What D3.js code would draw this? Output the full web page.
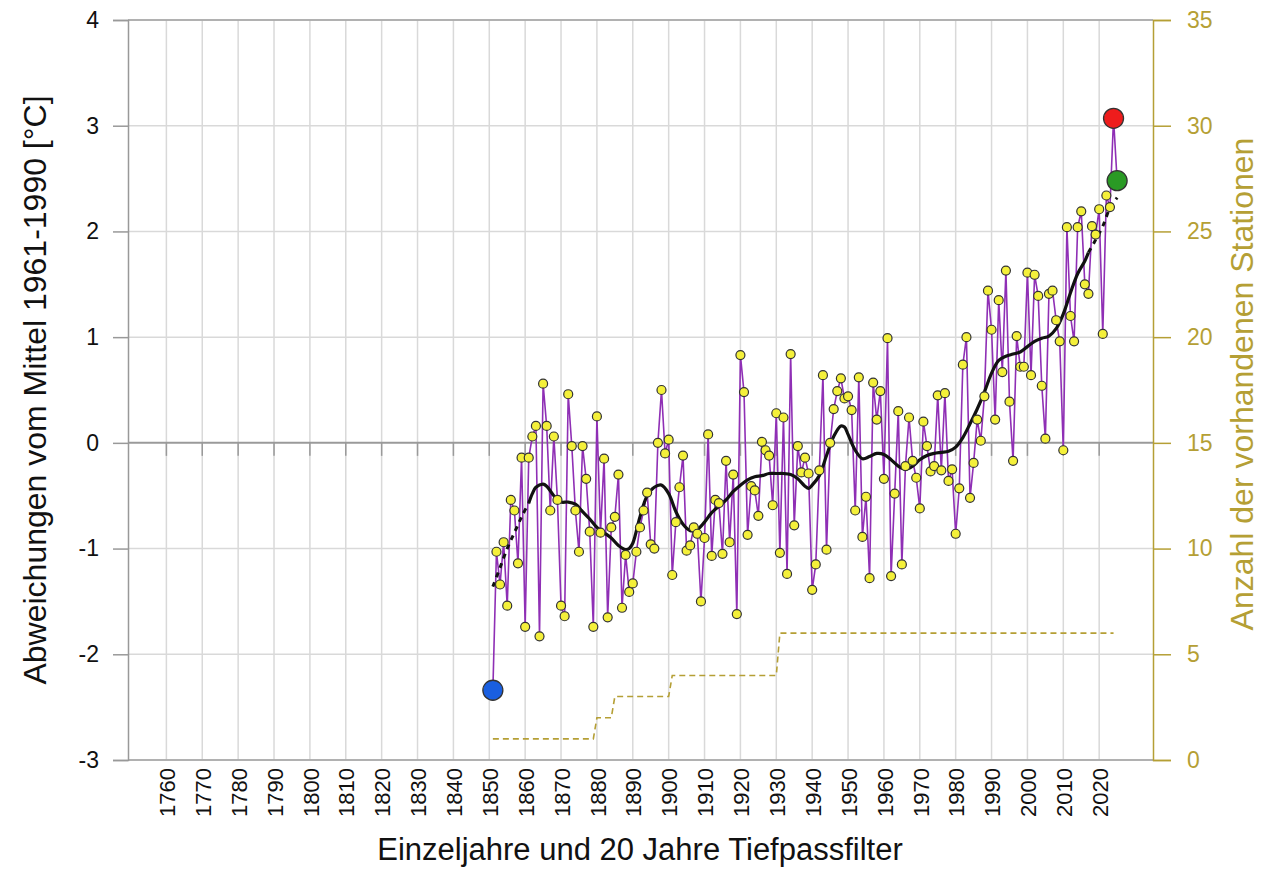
<!DOCTYPE html>
<html>
<head>
<meta charset="utf-8">
<script src="https://cdn.jsdelivr.net/npm/d3@7/dist/d3.min.js"></script>
<style>
  body { margin: 0; background: #fff; }
  text { font-family: "Liberation Sans", Arial, sans-serif; }
</style>
</head>
<body>
<svg id="chart" width="1272" height="870"></svg>
<script>
// yearly anomalies 1851..2025 (last two: red = warmest, green = latest)
const firstYear = 1851;
const anomalies = [
  -2.34, -1.03, -1.34, -0.94, -1.54, -0.54, -0.64, -1.14, -0.14,          // 1851-1859
  -1.74, -0.14, 0.06, 0.16, -1.83, 0.56, 0.16, -0.64, 0.06, -0.54,        // 1860-1869
  -1.54, -1.64, 0.46, -0.03, -0.64, -1.03, -0.03, -0.34, -0.84, -1.74,    // 1870-1879
  0.25, -0.85, -0.15, -1.65, -0.80, -0.70, -0.30, -1.56, -1.06, -1.41,    // 1880-1889
  -1.33, -1.03, -0.80, -0.64, -0.47, -0.96, -1.00, 0.00, 0.50, -0.10,     // 1890-1899
  0.03, -1.25, -0.75, -0.42, -0.12, -1.02, -0.97, -0.80, -0.86, -1.50,    // 1900-1909
  -0.90, 0.08, -1.07, -0.54, -0.57, -1.05, -0.17, -0.94, -0.30, -1.62,    // 1910-1919
  0.83, 0.48, -0.87, -0.41, -0.45, -0.69, 0.01, -0.07, -0.12, -0.59,      // 1920-1929
  0.28, -1.04, 0.24, -1.24, 0.84, -0.78, -0.03, -0.28, -0.14, -0.29,      // 1930-1939
  -1.39, -1.15, -0.26, 0.64, -1.01, 0.00, 0.32, 0.49, 0.61, 0.42,         // 1940-1949
  0.44, 0.31, -0.64, 0.62, -0.89, -0.51, -1.28, 0.57, 0.22, 0.49,         // 1950-1959
  -0.34, 0.99, -1.26, -0.48, 0.30, -1.15, -0.22, 0.24, -0.17, -0.33,      // 1960-1969
  -0.62, 0.20, -0.03, -0.27, -0.22, 0.45, -0.26, 0.47, -0.36, -0.25,      // 1970-1979
  -0.86, -0.43, 0.74, 1.00, -0.52, -0.19, 0.22, 0.02, 0.44, 1.44,         // 1980-1989
  1.07, 0.22, 1.35, 0.67, 1.63, 0.39, -0.17, 1.01, 0.72, 0.72,            // 1990-1999
  1.61, 0.64, 1.59, 1.39, 0.54, 0.04, 1.41, 1.44, 1.16, 0.96,             // 2000-2009
  -0.07, 2.04, 1.20, 0.96, 2.04, 2.19, 1.50, 1.41, 2.05, 1.97,            // 2010-2019
  2.21, 1.03, 2.34, 2.23, 3.07, 2.48                                      // 2020-2025
];
const years = anomalies.map((d, i) => firstYear + i);

// 20-year low-pass filter
const filterYears = [1851, 1853, 1855, 1857, 1859, 1861, 1862, 1863, 1865, 1866, 1868, 1870,
  1872, 1874, 1876, 1878, 1880, 1882, 1884, 1886, 1888, 1889, 1890, 1892, 1894, 1896, 1898,
  1900, 1902, 1904, 1906, 1908, 1910, 1912, 1914, 1916, 1918, 1920, 1922, 1924, 1926, 1928,
  1930, 1932, 1934, 1936, 1938, 1939, 1940, 1942, 1944, 1946, 1948, 1949, 1950, 1952, 1954,
  1956, 1958, 1960, 1962, 1964, 1966, 1968, 1970, 1972, 1974, 1976, 1978, 1980, 1982, 1984,
  1986, 1988, 1990, 1992, 1994, 1996, 1998, 2000, 2002, 2004, 2006, 2008, 2010, 2012, 2014,
  2016, 2017, 2019, 2021, 2023, 2025];
const filterValues = [-1.36, -1.18, -1.00, -0.85, -0.70, -0.57, -0.48, -0.42, -0.39, -0.41,
  -0.50, -0.56, -0.56, -0.58, -0.65, -0.72, -0.80, -0.85, -0.90, -0.97, -1.01, -1.00, -0.95,
  -0.70, -0.50, -0.42, -0.40, -0.48, -0.65, -0.77, -0.83, -0.82, -0.75, -0.66, -0.60, -0.54,
  -0.46, -0.40, -0.35, -0.32, -0.31, -0.29, -0.29, -0.29, -0.30, -0.34, -0.41, -0.43, -0.40,
  -0.31, -0.12, 0.06, 0.16, 0.15, 0.08, -0.07, -0.15, -0.13, -0.10, -0.11, -0.16, -0.22, -0.25,
  -0.22, -0.16, -0.12, -0.10, -0.09, -0.08, -0.04, 0.05, 0.18, 0.32, 0.48, 0.66, 0.78, 0.82,
  0.84, 0.86, 0.91, 0.96, 0.99, 1.01, 1.08, 1.22, 1.42, 1.60, 1.72, 1.80, 1.92, 2.05, 2.22, 2.32];
const filterSolidFrom = 1861, filterSolidTo = 2017;

// number of stations
const stationYears  = [1851, 1879, 1880, 1884, 1885, 1900, 1901, 1930, 1931, 2024];
const stationCounts = [1, 1, 2, 2, 3, 3, 4, 4, 6, 6];

const decadeTicks = d3.range(1760, 2021, 10);
const leftTicks = d3.range(-3, 5);
const rightTicks = d3.range(0, 36, 5);

const gold = '#b59f35';
const svg = d3.select('#chart');
svg.append('rect').attr('width', 1272).attr('height', 870).attr('fill', '#fff');

const x = d3.scaleLinear().domain([1749.3, 2035]).range([128, 1153]);
const y = d3.scaleLinear().domain([-3, 4]).range([760, 20]);
const y2 = d3.scaleLinear().domain([0, 35]).range([760, 20]);

// grid
svg.append('g').selectAll('line').data(decadeTicks).join('line')
  .attr('x1', d => x(d)).attr('x2', d => x(d)).attr('y1', y(4)).attr('y2', y(-3))
  .attr('stroke', '#d9d9d9').attr('stroke-width', 1.5);
svg.append('g').selectAll('line').data(leftTicks.filter(d => d !== 0)).join('line')
  .attr('x1', x.range()[0]).attr('x2', x.range()[1]).attr('y1', d => y(d)).attr('y2', d => y(d))
  .attr('stroke', '#d9d9d9').attr('stroke-width', 1.5);

// zero line with small ticks
svg.append('line').attr('x1', x.range()[0]).attr('x2', x.range()[1])
  .attr('y1', y(0)).attr('y2', y(0)).attr('stroke', '#9a9a9a').attr('stroke-width', 2);
svg.append('g').selectAll('line').data(decadeTicks).join('line')
  .attr('x1', d => x(d)).attr('x2', d => x(d)).attr('y1', y(0)).attr('y2', y(0) + 13)
  .attr('stroke', '#9a9a9a').attr('stroke-width', 1.5);

// frame
svg.append('line').attr('x1', x.range()[0]).attr('x2', x.range()[1]).attr('y1', y(4)).attr('y2', y(4))
  .attr('stroke', '#a0a0a0').attr('stroke-width', 1.5);
svg.append('line').attr('x1', x.range()[0]).attr('x2', x.range()[1]).attr('y1', y(-3)).attr('y2', y(-3))
  .attr('stroke', '#a0a0a0').attr('stroke-width', 1.5);

// left axis
const leftAxis = svg.append('g').attr('transform', `translate(${x.range()[0]},0)`)
  .call(d3.axisLeft(y).tickValues(leftTicks).tickSize(15).tickPadding(14).tickFormat(d => String(d)));
leftAxis.select('.domain').attr('stroke', '#999').attr('stroke-width', 1.5);
leftAxis.selectAll('.tick line').attr('stroke', '#999').attr('stroke-width', 1.5);
leftAxis.selectAll('.tick text').attr('font-size', 23).attr('fill', '#111')
  .attr('font-family', '"Liberation Sans", Arial, sans-serif');

// right axis
const rightAxis = svg.append('g').attr('transform', `translate(${x.range()[1]},0)`)
  .call(d3.axisRight(y2).tickValues(rightTicks).tickSize(18).tickPadding(16));
rightAxis.select('.domain').attr('stroke', gold).attr('stroke-width', 1.5);
rightAxis.selectAll('.tick line').attr('stroke', gold).attr('stroke-width', 1.5);
rightAxis.selectAll('.tick text').attr('font-size', 23).attr('fill', gold)
  .attr('font-family', '"Liberation Sans", Arial, sans-serif');

// x tick labels
svg.append('g').selectAll('text').data(decadeTicks).join('text')
  .attr('transform', d => `translate(${x(d) + 1},768) rotate(-90)`)
  .attr('text-anchor', 'end').attr('dy', '0.35em')
  .attr('font-size', 22).attr('fill', '#111').text(d => d);

// titles
svg.append('text').attr('x', 640).attr('y', 860).attr('text-anchor', 'middle')
  .attr('font-size', 31).attr('fill', '#111').text('Einzeljahre und 20 Jahre Tiefpassfilter');
svg.append('text').attr('transform', 'translate(46,390) rotate(-90)').attr('text-anchor', 'middle')
  .attr('font-size', 32).attr('fill', '#111').text('Abweichungen vom Mittel 1961-1990 [°C]');
svg.append('text').attr('transform', 'translate(1253,384) rotate(-90)').attr('text-anchor', 'middle')
  .attr('font-size', 32).attr('fill', gold).text('Anzahl der vorhandenen Stationen');

// station count
const stationLine = d3.line().x((d, i) => x(stationYears[i])).y(d => y2(d));
svg.append('path').attr('d', stationLine(stationCounts))
  .attr('fill', 'none').attr('stroke', gold).attr('stroke-width', 1.6).attr('stroke-dasharray', '6,4');

// yearly series
const yearLine = d3.line().x((d, i) => x(years[i])).y(d => y(d));
svg.append('path').attr('d', yearLine(anomalies))
  .attr('fill', 'none').attr('stroke', '#8f2fb5').attr('stroke-width', 1.6);

// low-pass filter
const filterPts = filterYears.map((yr, i) => [yr, filterValues[i]]);
const smooth = d3.line().x(d => x(d[0])).y(d => y(d[1])).curve(d3.curveCatmullRom);
svg.append('path').attr('d', smooth(filterPts.filter(d => d[0] <= filterSolidFrom)))
  .attr('fill', 'none').attr('stroke', '#111').attr('stroke-width', 3).attr('stroke-dasharray', '5,5');
svg.append('path').attr('d', smooth(filterPts.filter(d => d[0] >= filterSolidFrom && d[0] <= filterSolidTo)))
  .attr('fill', 'none').attr('stroke', '#111').attr('stroke-width', 3.2);
svg.append('path').attr('d', smooth(filterPts.filter(d => d[0] >= filterSolidTo)))
  .attr('fill', 'none').attr('stroke', '#111').attr('stroke-width', 3).attr('stroke-dasharray', '5,5');

// points
const n = anomalies.length;
const normal = anomalies.map((v, i) => [years[i], v]).slice(1, n - 2);
svg.append('g').selectAll('circle').data(normal).join('circle')
  .attr('cx', d => x(d[0])).attr('cy', d => y(d[1])).attr('r', 4.5)
  .attr('fill', '#f4f03a').attr('stroke', '#333').attr('stroke-width', 1.2);

const special = [
  { yr: years[0], v: anomalies[0], c: '#1a5fe0' },
  { yr: years[n - 2], v: anomalies[n - 2], c: '#ee1c1c' },
  { yr: years[n - 1], v: anomalies[n - 1], c: '#2a9a25' }
];
svg.append('g').selectAll('circle').data(special).join('circle')
  .attr('cx', d => x(d.yr)).attr('cy', d => y(d.v)).attr('r', 10)
  .attr('fill', d => d.c).attr('stroke', '#333').attr('stroke-width', 1.3);
</script>
</body>
</html>
